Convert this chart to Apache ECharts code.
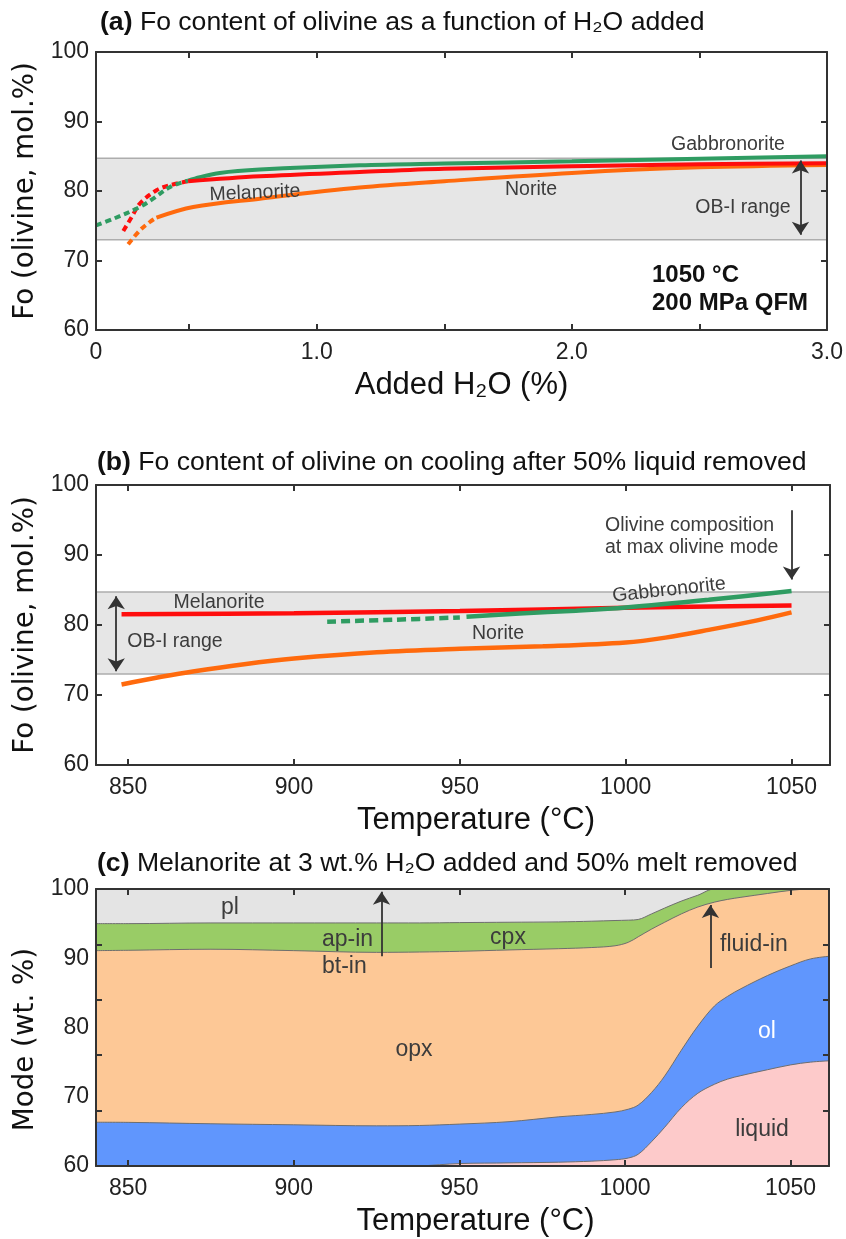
<!DOCTYPE html>
<html>
<head>
<meta charset="utf-8">
<title>Fo content of olivine</title>
<script src="https://cdn.jsdelivr.net/npm/echarts@6/dist/echarts.min.js"></script>
<style>
  html, body { margin: 0; padding: 0; background: #fff; }
  #main { width: 846px; height: 1239px; }
</style>
</head>
<body>
<div id="main"></div>
<script>
// ---- panel (a): Fo vs added H2O, [H2O %, Fo] ----
const gabbroDashA = [[0.135, 75.05], [0.203, 76.0], [0.307, 77.7], [0.359, 78.9], [0.424, 80.55], [0.496, 81.5]];
const gabbroSolidA = [[0.496, 81.5], [0.542, 82.0], [0.62, 82.6], [0.777, 83.08], [1.168, 83.7], [1.5, 83.95], [2.0, 84.27], [2.5, 84.65], [3.0, 85.0]];
const melaDashA = [[0.242, 74.24], [0.275, 76.26], [0.307, 78.19], [0.372, 80.1], [0.424, 80.82], [0.496, 81.4]];
const melaSolidA = [[0.496, 81.4], [0.777, 82.12], [1.168, 82.73], [1.5, 83.2], [2.0, 83.55], [2.5, 83.85], [3.0, 84.0]];
const noriteDashA = [[0.261, 72.33], [0.307, 74.34], [0.346, 75.54], [0.372, 76.17]];
const noriteSolidA = [[0.372, 76.17], [0.516, 77.7], [0.777, 78.9], [1.168, 80.49], [1.5, 81.4], [2.0, 82.6], [2.5, 83.4], [3.0, 83.75]];

// ---- panel (b): Fo on cooling, [T degC, Fo] ----
const melaB = [[848, 81.55], [900, 81.67], [950, 82.0], [1000, 82.45], [1050, 82.8]];
const gabbroDashB = [[910, 80.48], [930, 80.75], [950, 81.08]];
const gabbroSolidB = [[952, 81.18], [968, 81.65], [985, 82.05], [1000, 82.5], [1025, 83.6], [1050, 84.85]];
const noriteB = [[848, 71.5], [860, 72.6], [870, 73.4], [885, 74.4], [900, 75.2], [925, 76.1], [950, 76.6], [975, 76.95], [1000, 77.5], [1012, 78.2], [1025, 79.3], [1040, 80.7], [1050, 81.8]];

// OB-I range band (Fo)
const obRange = [73.0, 84.7];

// ---- panel (c): cumulative phase boundaries (wt.%) ----
const tempC = [840, 850, 875, 900, 925, 938, 950, 965, 980, 990, 997, 1001, 1004, 1008, 1012, 1017, 1022, 1027, 1031, 1035, 1043, 1050, 1056, 1062];
const liquidTop = [59.5, 59.5, 59.5, 59.6, 59.8, 60.0, 60.35, 60.45, 60.55, 60.7, 60.9, 61.15, 61.7, 63.5, 65.6, 68.4, 70.5, 71.8, 72.55, 73.05, 73.9, 74.6, 75.0, 75.2];
const olTop = [66.32, 66.3, 66.1, 65.95, 65.8, 65.85, 66.05, 66.4, 67.1, 67.45, 67.8, 68.2, 68.8, 70.6, 73.0, 76.7, 80.2, 83.1, 84.5, 85.6, 87.5, 88.9, 89.9, 90.3];
const opxTop = [91.1, 91.15, 91.3, 91.1, 90.85, 90.9, 91.0, 91.2, 91.38, 91.55, 91.8, 92.3, 93.1, 94.2, 95.2, 96.4, 97.4, 98.1, 98.5, 98.8, 99.35, 99.8, 100, 100];
const cpxTop = [95.0, 95.0, 95.1, 95.1, 95.1, 95.1, 95.15, 95.2, 95.25, 95.35, 95.45, 95.5, 95.6, 96.4, 97.25, 98.25, 99.1, 100, 100, 100, 100, 100, 100, 100];
const plTop = [100, 100, 100, 100, 100, 100, 100, 100, 100, 100, 100, 100, 100, 100, 100, 100, 100, 100, 100, 100, 100, 100, 100, 100];

// tick and label positions
const h2oTicks = [0.5, 1.0, 1.5, 2.0, 2.5];
const h2oLabels = [0.135, 1.0, 2.0, 3.0];
const tempTicks = [850, 900, 950, 1000, 1050];
const foTicks = [70, 80, 90];
const foLabels = [60, 70, 80, 90, 100];
const modeTicks = [68, 76, 84, 92];

const FONT = '"Liberation Sans", Arial, Helvetica, sans-serif';
const NAME_FONT = '"DejaVu Sans", sans-serif';
const FRAME = '#333';

const chart = echarts.init(document.getElementById('main'), null, { renderer: 'canvas' });

function inTicks(vals) {
  return { show: true, inside: true, length: 6, customValues: vals, lineStyle: { color: FRAME, width: 2 } };
}
const frameLine = { show: true, onZero: false, lineStyle: { color: FRAME, width: 2 } };

function xPair(g, min, max, ticks, labels, fmt, name, nameStyle) {
  const base = { type: 'value', gridIndex: g, min: min, max: max, z: 10, splitLine: { show: false }, axisLine: frameLine, axisTick: inTicks(ticks) };
  return [
    Object.assign({}, base, {
      position: 'bottom',
      axisLabel: { customValues: labels, formatter: fmt, margin: 11, fontSize: 23, color: '#222', fontFamily: FONT },
      name: name, nameLocation: 'middle', nameGap: 40, nameTextStyle: nameStyle
    }),
    Object.assign({}, base, { position: 'top', axisLabel: { show: false } })
  ];
}

function yPair(g, ticks, name, pad) {
  const base = { type: 'value', gridIndex: g, min: 60, max: 100, z: 10, splitLine: { show: false }, axisLine: frameLine, axisTick: inTicks(ticks) };
  return [
    Object.assign({}, base, {
      position: 'left',
      axisLabel: { customValues: foLabels, margin: 7, fontSize: 23, color: '#222', fontFamily: FONT },
      name: name, nameLocation: 'middle', nameGap: 47,
      nameTextStyle: { fontFamily: NAME_FONT, fontSize: 27.7, color: '#111', padding: pad }
    }),
    Object.assign({}, base, { position: 'right', axisLabel: { show: false } })
  ];
}

const xNameStyle = (pad) => ({ fontFamily: FONT, fontSize: 31, color: '#111', padding: pad });

function curve(g, data, color, dash, width) {
  return {
    type: 'line', xAxisIndex: g * 2, yAxisIndex: g * 2, data: data,
    smooth: 0.35, symbol: 'none', silent: true, z: 3,
    lineStyle: { color: color, width: width, type: dash ? dash : 'solid', cap: 'butt' }
  };
}

function arrow(from, to, both) {
  return {
    silent: true, z: 8, animation: false,
    symbol: both ? ['arrow', 'arrow'] : ['none', 'arrow'], symbolSize: 13,
    label: { show: false },
    lineStyle: { color: '#333', width: 1.8, type: 'solid' },
    data: [[{ coord: from }, { coord: to }]]
  };
}

function band() {
  return {
    silent: true, z: 1,
    itemStyle: { color: '#e6e6e6', borderColor: '#adadad', borderWidth: 1.5 },
    data: [[{ yAxis: obRange[0] }, { yAxis: obRange[1] }]]
  };
}

function area(name, tops, color, z) {
  return {
    name: name, type: 'line', xAxisIndex: 4, yAxisIndex: 4,
    data: tempC.map((t, i) => [t, tops[i]]),
    smooth: 0.35, symbol: 'none', silent: true, z: z,
    lineStyle: { color: '#6e6e6e', width: 1 },
    areaStyle: { color: color, opacity: 1 }
  };
}

const GREEN = '#2f9c62', RED = '#ff0d0d', ORANGE = '#ff6a0d';

const series = [
  // (a)
  Object.assign(curve(0, noriteSolidA, ORANGE, null, 4), { markArea: band(), markLine: arrow([2.896, 73.7], [2.896, 84.4], true) }),
  curve(0, noriteDashA, ORANGE, [6, 4], 4),
  curve(0, melaDashA, RED, [6, 4], 4),
  curve(0, gabbroDashA, GREEN, [6, 4], 4),
  curve(0, gabbroSolidA, GREEN, null, 4),
  curve(0, melaSolidA, RED, null, 4),
  // (b)
  Object.assign(curve(1, noriteB, ORANGE, null, 4.5), { markArea: band(), markLine: arrow([846.4, 73.4], [846.4, 84.1], true) }),
  Object.assign(curve(1, melaB, RED, null, 4.5), { markLine: arrow([1050, 96.4], [1050, 86.5], false) }),
  curve(1, gabbroDashB, GREEN, [9, 5], 4.5),
  curve(1, gabbroSolidB, GREEN, null, 4.5),
  // (c)
  area('pl', plTop, '#e4e4e4', 1),
  area('cpx', cpxTop, '#99cc66', 2),
  area('opx', opxTop, '#fdc896', 3),
  area('ol', olTop, '#6096fd', 4),
  Object.assign(area('liquid', liquidTop, '#fdcaca', 5), {
    markLine: {
      silent: true, z: 8, animation: false, symbol: ['none', 'arrow'], symbolSize: 13,
      label: { show: false }, lineStyle: { color: '#333', width: 1.8, type: 'solid' },
      data: [[{ coord: [926.5, 90.3] }, { coord: [926.5, 99.6] }], [{ coord: [1025.8, 88.6] }, { coord: [1025.8, 97.7] }]]
    }
  })
];

function txt(x, y, text, opts) {
  const o = opts || {};
  return {
    type: 'text', x: x, y: y, rotation: o.rot || 0, z: 20, silent: true,
    style: {
      text: text, fill: o.fill || '#3c3c3c', fontFamily: FONT, fontSize: o.size || 19.5,
      fontWeight: o.weight || 'normal', align: o.align || 'center', verticalAlign: 'middle',
      rich: o.rich
    }
  };
}

const titleRich = { b: { fontWeight: 'bold', fontSize: 26.6, fontFamily: FONT, fill: '#111' } };

const graphic = [
  // titles
  txt(100, 23, '{b|(a)} Fo content of olivine as a function of H\u2082O added', { align: 'left', size: 26.6, fill: '#111', rich: titleRich }),
  txt(97, 463, '{b|(b)} Fo content of olivine on cooling after 50% liquid removed', { align: 'left', size: 26.6, fill: '#111', rich: titleRich }),
  txt(97, 864, '{b|(c)} Melanorite at 3 wt.% H\u2082O added and 50% melt removed', { align: 'left', size: 26.6, fill: '#111', rich: titleRich }),
  // (a) labels
  txt(728, 145, 'Gabbronorite'),
  txt(255, 193, 'Melanorite', { rot: 0.04 }),
  txt(531, 190, 'Norite'),
  txt(743, 208, 'OB-I range'),
  txt(652, 275, '1050 \u00b0C', { align: 'left', size: 24, weight: 'bold', fill: '#111' }),
  txt(652, 303, '200 MPa QFM', { align: 'left', size: 24, weight: 'bold', fill: '#111' }),
  // (b) labels
  txt(219, 603, 'Melanorite'),
  txt(175, 642, 'OB-I range'),
  txt(669, 590, 'Gabbronorite', { rot: 0.11 }),
  txt(498, 634, 'Norite'),
  txt(605, 526, 'Olivine composition', { align: 'left' }),
  txt(605, 548, 'at max olivine mode', { align: 'left' }),
  // (c) labels
  txt(230, 908, 'pl', { size: 23 }),
  txt(322, 940, 'ap-in', { align: 'left', size: 23 }),
  txt(322, 967, 'bt-in', { align: 'left', size: 23 }),
  txt(508, 938, 'cpx', { size: 23 }),
  txt(414, 1050, 'opx', { size: 23 }),
  txt(720, 945, 'fluid-in', { align: 'left', size: 23 }),
  txt(767, 1032, 'ol', { size: 23, fill: '#ffffff' }),
  txt(762, 1130, 'liquid', { size: 23 })
];

const option = {
  animation: false,
  backgroundColor: '#ffffff',
  grid: [
    { left: 96, top: 52, width: 732, height: 278 },
    { left: 96, top: 485, width: 734, height: 280 },
    { left: 96, top: 889, width: 733, height: 277 }
  ],
  xAxis: []
    .concat(xPair(0, 0.135, 3.0, h2oTicks, h2oLabels, (v) => (v < 0.5 ? '0' : v.toFixed(1)), 'Added H\u2082O (%)', xNameStyle(0)))
    .concat(xPair(1, 840.3, 1061.6, tempTicks, tempTicks, (v) => String(v), 'Temperature (\u00b0C)', xNameStyle([0, 0, 0, 26])))
    .concat(xPair(2, 840.3, 1061.6, tempTicks, tempTicks, (v) => String(v), 'Temperature (\u00b0C)', xNameStyle([0, 0, 0, 26]))),
  yAxis: []
    .concat(yPair(0, foTicks, 'Fo (olivine, mol.%)', 0))
    .concat(yPair(1, foTicks, 'Fo (olivine, mol.%)', 0))
    .concat(yPair(2, modeTicks, 'Mode (wt. %)', [0, 24, 0, 0])),
  series: series,
  graphic: graphic
};

chart.setOption(option);
</script>
</body>
</html>
